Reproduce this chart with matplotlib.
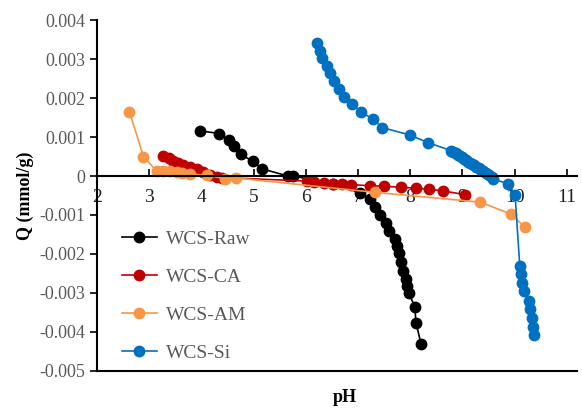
import numpy as np
import matplotlib
matplotlib.use("Agg")
import matplotlib.pyplot as plt

plt.rcParams['font.family'] = ['Liberation Serif', 'DejaVu Serif']

# WCS-Raw
raw_ph = [3.97, 4.34, 4.53, 4.62, 4.75, 4.98, 5.17, 5.66, 5.75, 6.53, 7.04, 7.24,
          7.33, 7.43, 7.54, 7.59, 7.70, 7.74, 7.78, 7.82, 7.87, 7.92, 7.94, 7.97,
          8.09, 8.11, 8.21]
raw_q = [0.00116, 0.00109, 0.00092, 0.00077, 0.00056, 0.00038, 0.00018, 0.0, 0.0,
         -0.0002, -0.00043, -0.0006, -0.0008, -0.001, -0.0012, -0.0014, -0.00161,
         -0.00179, -0.00198, -0.0022, -0.00243, -0.00264, -0.00282, -0.003,
         -0.00335, -0.00376, -0.00431]

# WCS-CA
ca_ph = [3.27, 3.37, 3.46, 3.56, 3.65, 3.78, 3.91, 4.04, 4.16, 4.29, 4.40, 6.02,
         6.15, 6.34, 6.53, 6.69, 6.86, 7.23, 7.50, 7.82, 8.11, 8.36, 8.63, 9.05]
ca_q = [0.00052, 0.00045, 0.00039, 0.00033, 0.00028, 0.00023, 0.00018, 0.00011,
        0.00003, -0.00002, -0.00004, -0.00013, -0.00016, -0.00019, -0.00021,
        -0.00021, -0.00022, -0.00025, -0.00026, -0.00029, -0.00031, -0.00034,
        -0.00038, -0.00048]

# WCS-AM
am_ph = [2.62, 2.89, 3.14, 3.26, 3.40, 3.54, 3.62, 3.79, 4.10, 4.45, 4.66, 7.33,
         9.34, 9.94, 10.2]
am_q = [0.00165, 0.0005, 0.00013, 0.00013, 0.00012, 0.0001, 0.00008, 0.00005,
        0.00002, -0.00007, -0.00005, -0.00042, -0.00067, -0.00098, -0.00132]

# WCS-Si
si_ph = [6.22, 6.27, 6.32, 6.40, 6.46, 6.55, 6.64, 6.74, 6.88, 7.06, 7.29, 7.47,
         8.0, 8.35, 8.79, 8.83, 8.87, 8.91, 8.95, 8.99, 9.03, 9.07, 9.11, 9.15,
         9.19, 9.23, 9.27, 9.31, 9.35, 9.40, 9.46, 9.52, 9.56, 9.59, 9.88, 10.01,
         10.10, 10.13, 10.15, 10.18, 10.28, 10.29, 10.33, 10.35, 10.37]
si_q = [0.0034, 0.0032, 0.00302, 0.00282, 0.00263, 0.00244, 0.00223, 0.00203,
        0.00184, 0.00165, 0.00145, 0.00124, 0.00105, 0.00085, 0.00065, 0.00061,
        0.00058, 0.00055, 0.00051, 0.00048, 0.00044, 0.00041, 0.00037, 0.00033,
        0.0003, 0.00027, 0.00024, 0.0002, 0.00016, 0.00012, 0.00007, 0.00002,
        -0.00002, -0.00008, -0.0002, -0.00048, -0.0023, -0.00251, -0.00274,
        -0.00295, -0.0032, -0.00342, -0.00365, -0.00386, -0.00408]

series = [
    ("WCS-Raw", raw_ph, raw_q, "#000000"),
    ("WCS-CA", ca_ph, ca_q, "#C00000"),
    ("WCS-AM", am_ph, am_q, "#F79646"),
    ("WCS-Si", si_ph, si_q, "#0070C0"),
]

fig = plt.figure(figsize=(5.82, 4.09), dpi=100)
ax = fig.add_axes([0.1667, 0.093, 0.825, 0.858])

for name, x, y, c in series:
    ax.plot(x, y, color=c, lw=1.2, marker='o', markersize=7.5, label=name)

ax.set_xlim(2, 11.2)
ax.set_ylim(-0.005, 0.004)
ax.set_xticks(np.arange(2, 12, 1))
ax.set_yticks(np.arange(-0.005, 0.0041, 0.001))
ax.set_yticklabels(["-0.005", "-0.004", "-0.003", "-0.002", "-0.001", "0",
                    "0.001", "0.002", "0.003", "0.004"])

ax.spines['top'].set_visible(False)
ax.spines['right'].set_visible(False)
ax.spines['bottom'].set_position(('data', 0))
ax.spines['bottom'].set_linewidth(1.5)
ax.spines['left'].set_linewidth(1.5)
ax.axhline(-0.005, color='black', lw=1.5, clip_on=False)

ax.tick_params(axis='x', direction='in', length=5, width=1.2,
               labelsize=14, labelcolor='#222222', pad=9)
ax.tick_params(axis='y', direction='out', length=5, width=1.2,
               labelsize=13, labelcolor='#595959')

ax.set_ylabel("Q (mmol/g)", fontsize=13, fontweight='bold', labelpad=4)
fig.text(0.593, 0.027, "pH", fontsize=13, fontweight='bold', ha='center', va='center')

ax.legend(loc='upper left', bbox_to_anchor=(0.015, 0.45), frameon=False,
          fontsize=14, labelspacing=1.05, handlelength=1.8, handletextpad=0.5,
          labelcolor='#595959')

fig.savefig("out.png", dpi=100)
